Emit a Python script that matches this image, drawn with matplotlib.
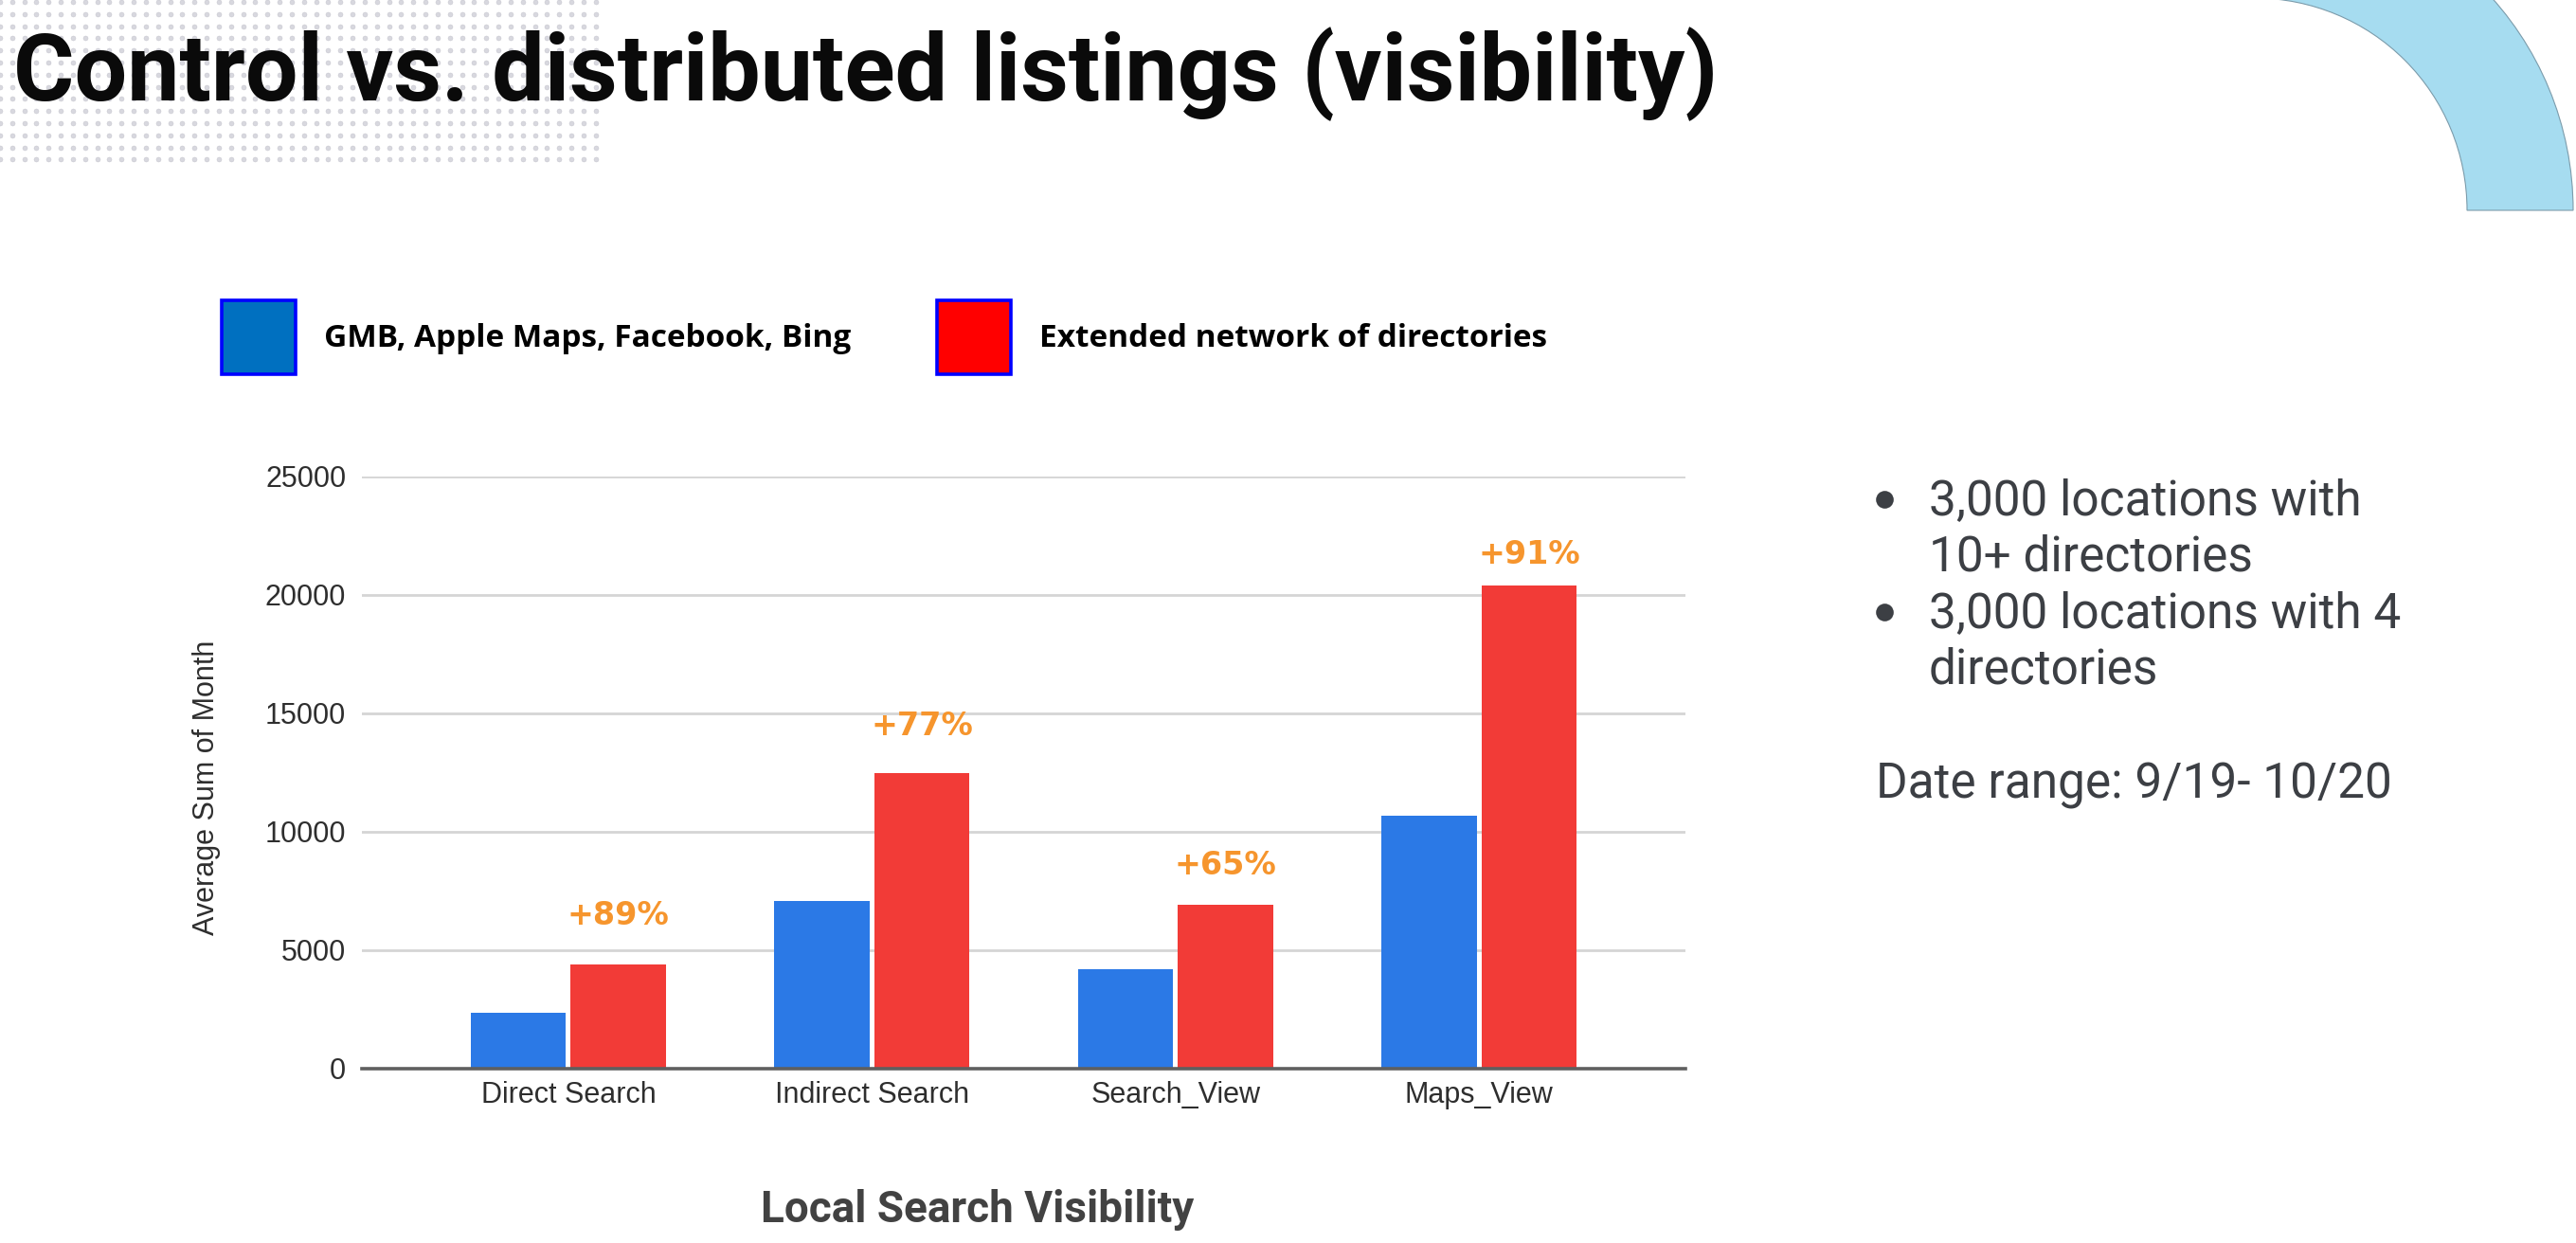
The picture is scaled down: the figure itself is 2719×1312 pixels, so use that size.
import numpy as np
import matplotlib
matplotlib.use("Agg")
import matplotlib.pyplot as plt
from matplotlib.patches import Patch, Wedge
from matplotlib.font_manager import FontProperties

# ---------------- data ----------------
categories = ["Direct Search", "Indirect Search", "Search_View", "Maps_View"]
control_values = [2330, 7050, 4200, 10650]
extended_values = [4400, 12480, 6900, 20400]
uplift_labels = ["+89%", "+77%", "+65%", "+91%"]
yticks = [0, 5000, 10000, 15000, 20000, 25000]
series_names = ["GMB, Apple Maps, Facebook, Bing", "Extended network of directories"]
bullet_lines = [["3,000 locations with", "10+ directories"],
                ["3,000 locations with 4", "directories"]]
date_note = "Date range: 9/19- 10/20"
title = "Control vs. distributed listings (visibility)"
x_title = "Local Search Visibility"
y_title = "Average Sum of Month"

# ---------------- figure ----------------
W, H = 2719, 1312
fig = plt.figure(figsize=(W / 100, H / 100), dpi=100)
fig.patch.set_facecolor("white")

def fx(px):
    return px / W

def fy(py):
    return 1 - py / H

# decoration layer (pixel coordinates, y up)
deco = fig.add_axes([0, 0, 1, 1], zorder=0)
deco.set_xlim(0, W)
deco.set_ylim(0, H)
deco.axis("off")
gx, gy = np.meshgrid(np.arange(0, 640, 12.83), H - np.arange(2, 172, 12.8))
deco.scatter(gx.ravel(), gy.ravel(), s=13, color="#d8d8df", edgecolors="#c4c4cc",
             linewidths=0.3)
deco.add_patch(Wedge((2380, H - 222), 336, 0, 90, width=112,
                     facecolor="#a6dcf0", edgecolor="#7c9cab", lw=0.8))

# title
fig.text(fx(14), fy(106), title, fontsize=71, fontweight="bold",
         family="Roboto", color="#0a0a0a", va="baseline", ha="left", zorder=3)

# legend
handles = [Patch(facecolor="#0070c0", edgecolor="#0000ff", lw=2.6),
           Patch(facecolor="#ff0000", edgecolor="#0000ff", lw=2.6)]
fig.legend(handles=handles, labels=series_names, loc="center left",
           bbox_to_anchor=(fx(234), fy(356)), ncol=2, frameon=False,
           handlelength=2.35, handleheight=3.18, handletextpad=0.9,
           columnspacing=2.7, borderpad=0, borderaxespad=0,
           prop=FontProperties(family="Open Sans", weight="bold", size=24))

# ---------------- chart ----------------
left, right, bottom, top = 382, 1779, 1127.6, 502.6
ax = fig.add_axes([fx(left), fy(bottom), (right - left) / W, (bottom - top) / H], zorder=2)
ax.set_facecolor("none")
x = np.arange(len(categories))
bw = 0.314
ax.bar(x - 0.165, control_values, width=bw, color="#2b79e6", zorder=3)
ax.bar(x + 0.165, extended_values, width=bw, color="#f23b37", zorder=3)

label_gaps = [37, 35, 30, 23]
for xi, v, lab, g in zip(x, extended_values, uplift_labels, label_gaps):
    ax.annotate(lab, (xi + 0.165, v), xytext=(0, g), textcoords="offset points",
                ha="center", va="center", fontsize=24, fontweight="bold",
                family="DejaVu Sans", color="#f6952d", zorder=4)

ax.set_xlim(-0.68, len(categories) - 1 + 0.68)
ax.set_ylim(0, 25000)
ax.set_yticks(yticks)
ax.set_yticklabels([str(t) for t in yticks])
ax.set_xticks(x)
ax.set_xticklabels(categories)
ax.tick_params(axis="both", length=0, labelsize=22, labelcolor="#2e2e2e")
ax.tick_params(axis="y", pad=12)
ax.tick_params(axis="x", pad=10)
for lab in ax.get_xticklabels() + ax.get_yticklabels():
    lab.set_family("Liberation Sans")
ax.grid(axis="y", color="#d5d5d5", lw=2.0, zorder=0)
ax.set_axisbelow(True)
for s in ["left", "right", "top"]:
    ax.spines[s].set_visible(False)
ax.spines["bottom"].set_color("#5f5f5f")
ax.spines["bottom"].set_linewidth(2.6)
ax.spines["bottom"].set_zorder(5)
ax.set_ylabel(y_title, fontsize=22, family="Liberation Sans", color="#2e2e2e")
ax.yaxis.set_label_coords((233 - left) / (right - left), (bottom - 831) / (bottom - top))

# x title
fig.text(fx(1032), fy(1290), x_title, fontsize=33, fontweight="bold",
         family="Roboto", color="#424242", ha="center", va="baseline")

# ---------------- right side notes ----------------
txt_color = "#3c3f44"
for i, lines in enumerate(bullet_lines):
    y0 = 543 + i * 119
    deco.scatter([1989], [H - (y0 - 16)], s=180, color=txt_color, linewidths=0)
    for j, line in enumerate(lines):
        fig.text(fx(2036), fy(y0 + j * 59.5), line, fontsize=37, family="Roboto",
                 color=txt_color, ha="left", va="baseline")
fig.text(fx(1980), fy(842), date_note, fontsize=37, family="Roboto",
         color=txt_color, ha="left", va="baseline")

fig.savefig("out.png", dpi=100, facecolor="white")
